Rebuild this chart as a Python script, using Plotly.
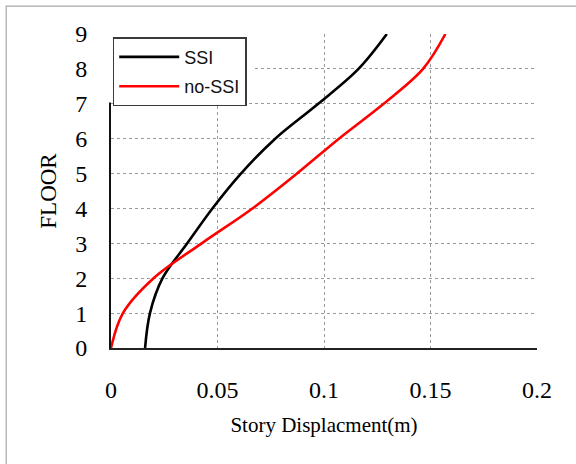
import plotly.graph_objects as go

# Story displacement profiles (m) at each floor level
floors = [0, 1, 2, 3, 4, 5, 6, 7, 8, 9]
ssi_disp = [0.0160, 0.0183, 0.0242, 0.0358, 0.0476, 0.0610, 0.0771, 0.0973, 0.1162, 0.1295]
nossi_disp = [0.0, 0.0056, 0.0200, 0.0426, 0.0664, 0.0873, 0.1070, 0.1280, 0.1465, 0.1570]

x_ticks = [0, 0.05, 0.1, 0.15, 0.2]
x_tick_text = ["0", "0.05", "0.1", "0.15", "0.2"]

fig = go.Figure()
fig.add_trace(go.Scatter(
    x=ssi_disp, y=floors, mode="lines", name="SSI", legendgroup="a",
    line=dict(color="black", width=2.6, shape="spline", smoothing=1.0),
))
fig.add_trace(go.Scatter(
    x=nossi_disp, y=floors, mode="lines", name="no-SSI", legendgroup="b",
    line=dict(color="#ff0000", width=2.6, shape="spline", smoothing=1.0),
))

serif = "Liberation Serif, Times New Roman, serif"
grid = dict(showgrid=True, gridcolor="#9a9a9a", griddash="dot", gridwidth=1, zeroline=False)

fig.update_xaxes(
    range=[0, 0.2], tickvals=x_ticks, ticktext=x_tick_text,
    showline=True, linecolor="#222222", linewidth=2, mirror=False,
    ticks="", ticklabelstandoff=19,
    tickfont=dict(family=serif, size=24, color="black"),
    title=dict(text="Story Displacment(m)", font=dict(family=serif, size=21, color="black"), standoff=16),
    **grid,
)
fig.update_yaxes(
    range=[0, 9], dtick=1,
    showline=True, linecolor="#111111", linewidth=2, mirror=False,
    ticks="", ticklabelstandoff=17,
    tickfont=dict(family=serif, size=24, color="black"),
    title=dict(text="FLOOR", font=dict(family=serif, size=23, color="black"), standoff=12),
    **grid,
)

# white area behind the legend box
fig.add_shape(type="rect", xref="paper", yref="paper",
              x0=-0.02, x1=0.332, y0=0.782, y1=1.02,
              fillcolor="white", line=dict(width=0), layer="above")
# outer chart frame
fig.add_shape(type="rect", xref="paper", yref="paper",
              x0=-0.246, x1=1.2, y0=-0.5, y1=1.089,
              fillcolor="rgba(0,0,0,0)", line=dict(color="#a8a8a8", width=1.2), layer="above")

fig.update_layout(
    width=576, height=464,
    margin=dict(l=111, r=39, t=34, b=116),
    paper_bgcolor="white", plot_bgcolor="white",
    showlegend=True,
    legend=dict(
        x=0.004, y=0.99, xanchor="left", yanchor="top",
        bgcolor="white", bordercolor="#3a3a3a", borderwidth=1.5,
        font=dict(family="Liberation Sans, Arial, sans-serif", size=18, color="#111111"),
        itemwidth=60, tracegroupgap=3,
    ),
)

fig.write_html("out.html")
